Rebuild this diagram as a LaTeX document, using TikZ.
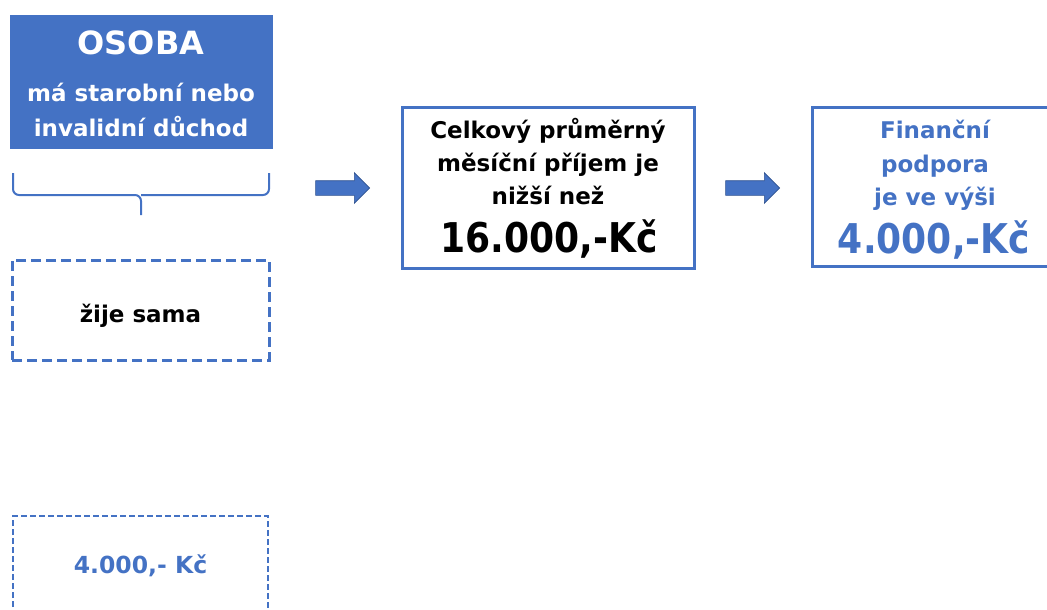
\documentclass[tikz,border=0pt]{standalone}
\usepackage{fontspec}
\setmainfont{DejaVu Sans}
\newfontfamily\narrowfont[FakeStretch=0.88]{DejaVu Sans}
\usetikzlibrary{shapes.arrows}
\definecolor{mblue}{HTML}{4472C4}
\definecolor{dblue}{HTML}{2F528F}
\tikzset{
  x=1pt,y=1pt,
  every node/.style={inner sep=0pt,outer sep=0pt,font=\bfseries},
  txt/.style={anchor=base,font=\bfseries\fontsize{23}{28}\selectfont},
  bigtxt/.style={anchor=base,font=\narrowfont\bfseries\fontsize{41}{44}\selectfont},
  bluebox/.style={fill=mblue,draw=mblue},
  framebox/.style={draw=mblue,line width=3pt},
  dashbox/.style={draw=mblue,line width=3pt,dash pattern=on 10pt off 5pt},
  thindash/.style={draw=mblue,line width=1.6pt,dash pattern=on 6pt off 3pt},
  blockarrow/.style={single arrow,fill=mblue,draw=dblue,line width=0.6pt,single arrow head extend=8pt,single arrow tip angle=90,minimum height=54pt,inner xsep=0pt,inner ysep=7pt},
  bracestyle/.style={draw=mblue,line width=2pt,rounded corners=6pt},
}
\begin{document}
\begin{tikzpicture}
\useasboundingbox (0,0) rectangle (1047,-610);
% OSOBA box
\node[bluebox,minimum width=262pt,minimum height=133pt] (osoba) at (141,-81.5) {};
\node[anchor=base,text=white,font=\bfseries\fontsize{32}{38}\selectfont] (osobat) at (141,-55) {OSOBA};
\node[txt,text=white] (osobad1) at (141,-102) {má starobní nebo};
\node[txt,text=white] (osobad2) at (141,-136) {invalidní důchod};
% brace
\coordinate (bl) at (13,-173);
\coordinate (br) at (269,-173);
\coordinate (bm) at (141,-195);
\coordinate (bt) at (141,-215);
\draw[bracestyle] (bl) |- (bm) -- (bt);
\draw[bracestyle] (br) |- (bm);
% zije sama
\node[dashbox,minimum width=257pt,minimum height=100pt] (zije) at (140.5,-310) {};
\node[txt] (zijet) at (140.5,-322) {žije sama};
% bottom dashed box
\coordinate (d1) at (13,-625);
\coordinate (d2) at (13,-516);
\coordinate (d3) at (268,-516);
\coordinate (d4) at (268,-625);
\draw[thindash] (d1) -- (d2) -- (d3) -- (d4);
\node[txt,text=mblue,font=\bfseries\fontsize{23.5}{28}\selectfont] (amt) at (140.5,-573) {4.000,- Kč};
% box 2
\node[framebox,minimum width=292pt,minimum height=161pt] (prijem) at (548,-187.5) {};
\node[txt] (pr1) at (548,-138) {Celkový průměrný};
\node[txt] (pr2) at (548,-171) {měsíční příjem je};
\node[txt] (pr3) at (548,-204) {nižší než};
\node[bigtxt] (pr4) at (549,-252) {16.000,-Kč};
% box 3
\coordinate (p1) at (1050,-107);
\coordinate (p2) at (812,-107);
\coordinate (p3) at (812,-266);
\coordinate (p4) at (1050,-266);
\draw[draw=mblue,line width=3pt] (p1) -- (p2) -- (p3) -- (p4);
\node[txt,text=mblue] (po1) at (935,-138) {Finanční};
\node[txt,text=mblue] (po2) at (935,-172) {podpora};
\node[txt,text=mblue] (po3) at (935,-205) {je ve výši};
\node[bigtxt,text=mblue] (po4) at (934,-253) {4.000,-Kč};
% arrows
\node[blockarrow] (a1) at (339,-188) {};
\node[blockarrow] (a2) at (749,-188) {};
\end{tikzpicture}
\end{document}
